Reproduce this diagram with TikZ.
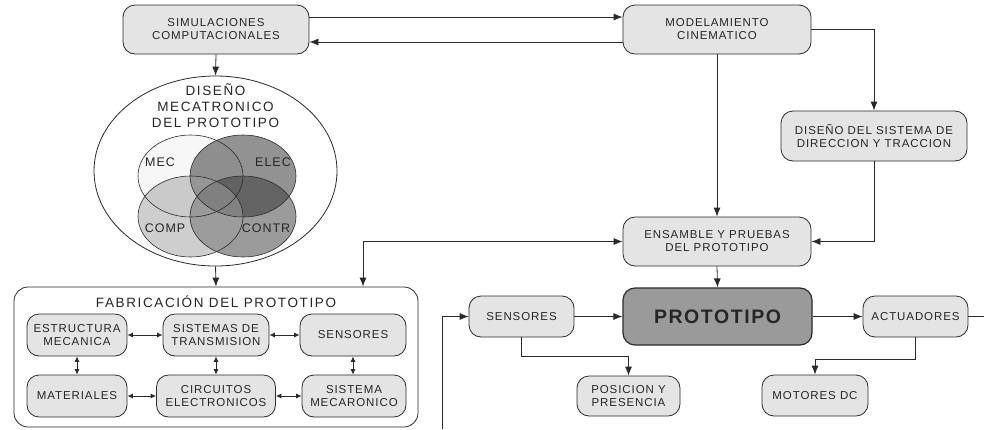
\documentclass[tikz,border=0pt]{standalone}
\usepackage{fontspec}
\newfontfamily\lsans[LetterSpace=8]{Liberation Sans}
\newfontfamily\tsans[LetterSpace=12]{Liberation Sans}
\usetikzlibrary{arrows.meta,shapes.geometric}
\definecolor{boxfill}{HTML}{E4E4E4}
\definecolor{protofill}{HTML}{9A9A9A}
\definecolor{linec}{HTML}{2A2A2A}
\tikzset{
  box/.style={draw=linec, fill=boxfill, rounded corners=12pt, align=center,
    line width=0.8pt, inner sep=1pt, text=black!85,
    font=\lsans\fontsize{11.5}{13}\selectfont},
  protobox/.style={box, fill=protofill, line width=1.2pt,
    font=\lsans\bfseries\fontsize{19.5}{22}\selectfont},
  arr/.style={draw=linec, line width=0.8pt, -{Latex[length=9pt,width=7pt]}},
  arrboth/.style={draw=linec, line width=0.8pt, {Latex[length=9pt,width=7pt]}-{Latex[length=9pt,width=7pt]}},
  darr/.style={draw=linec, line width=0.8pt, {Latex[length=5.5pt,width=5pt]}-{Latex[length=5.5pt,width=5pt]}},
  plain/.style={draw=linec, line width=0.8pt},
  vlabel/.style={text=black!85, font=\lsans\fontsize{12.5}{14}\selectfont},
  title/.style={text=black!85, align=center, font=\tsans\fontsize{13.5}{16}\selectfont},
  vcirc/.style={fill opacity=0.5}
}
\begin{document}
\begin{tikzpicture}[x=1pt,y=-1pt]
\useasboundingbox[fill=white] (0,0) rectangle (984,429);

% top row
\node[box, minimum width=186pt, minimum height=49pt] (sim) at (216,29.5) {SIMULACIONES\\COMPUTACIONALES};
\node[box, minimum width=188pt, minimum height=49pt] (mod) at (717,29.5) {MODELAMIENTO\\CINEMATICO};
\node[box, minimum width=186pt, minimum height=50pt] (dir) at (874,136) {DISEÑO DEL SISTEMA DE\\DIRECCION Y TRACCION};
\node[box, minimum width=188pt, minimum height=49pt] (ens) at (717,241.5) {ENSAMBLE Y PRUEBAS\\DEL PROTOTIPO};

% venn
\node[draw=linec, line width=0.8pt, fill=white, ellipse, minimum width=243pt, minimum height=190pt, inner sep=0pt] (venn) at (215.5,171) {};
\node[title] (vtitle) at (215.5,106) {DISEÑO\\MECATRONICO\\DEL PROTOTIPO};
\fill[vcirc, fill=black!6] (190.5,176) ellipse [x radius=52.5, y radius=41];
\fill[vcirc, fill=black!85] (243,176) ellipse [x radius=53, y radius=41];
\fill[vcirc, fill=black!78] (243,216.5) ellipse [x radius=53, y radius=40.5];
\fill[vcirc, fill=black!38] (190.5,216.5) ellipse [x radius=52.5, y radius=40.5];
\draw[draw=linec, line width=0.6pt] (190.5,176) ellipse [x radius=52.5, y radius=41];
\draw[draw=linec, line width=0.6pt] (243,176) ellipse [x radius=53, y radius=41];
\draw[draw=linec, line width=0.6pt] (243,216.5) ellipse [x radius=53, y radius=40.5];
\draw[draw=linec, line width=0.6pt] (190.5,216.5) ellipse [x radius=52.5, y radius=40.5];
\node[vlabel] (lmec) at (160,162) {MEC};
\node[vlabel] (lelec) at (273,162) {ELEC};
\node[vlabel] (lcomp) at (165,228) {COMP};
\node[vlabel] (lcontr) at (266,228) {CONTR};

% fabrication
\node[draw=linec, line width=0.8pt, fill=white, rounded corners=14pt, minimum width=404pt, minimum height=140pt, inner sep=0pt] (fab) at (216,357) {};
\node[title] (fabt) at (216,302) {FABRICACIÓN DEL PROTOTIPO};
\node[box, minimum width=100pt, minimum height=42pt] (em) at (77,335) {ESTRUCTURA\\MECANICA};
\node[box, minimum width=106pt, minimum height=42pt] (st) at (216,335) {SISTEMAS DE\\TRANSMISION};
\node[box, minimum width=106pt, minimum height=42pt] (sen1) at (353,335) {SENSORES};
\node[box, minimum width=100pt, minimum height=42pt] (mat) at (77,396) {MATERIALES};
\node[box, minimum width=119pt, minimum height=42pt] (ce) at (216,396) {CIRCUITOS\\ELECTRONICOS};
\node[box, minimum width=104pt, minimum height=42pt] (sm) at (354,396) {SISTEMA\\MECARONICO};

\draw[darr] (em.east) -- (st.west);
\draw[darr] (st.east) -- (sen1.west);
\draw[darr] (mat.east) -- (ce.west);
\draw[darr] (ce.east) -- (sm.west);
\draw[darr] (em.south) -- (mat.north);
\draw[darr] (st.south) -- (ce.north);
\draw[darr] (sen1.south) -- (sm.north -| sen1.south);

% lower right
\node[protobox, minimum width=189pt, minimum height=57pt] (proto) at (717.5,316.5) {PROTOTIPO};
\node[box, minimum width=105pt, minimum height=41pt] (sen2) at (521.5,316.5) {SENSORES};
\node[box, minimum width=105pt, minimum height=41pt] (act) at (915.5,316.5) {ACTUADORES};
\node[box, minimum width=103pt, minimum height=40pt] (pos) at (628.5,396) {POSICION Y\\PRESENCIA};
\node[box, minimum width=106pt, minimum height=41pt] (mot) at (815,395.5) {MOTORES DC};

\coordinate (fbin) at (442,429);
\coordinate (actout) at (984,316.5);

% connectors
\draw[arr] (sim.east |- 0,17) -- (mod.west |- 0,17);
\draw[arr] (mod.west |- 0,42) -- (sim.east |- 0,42);
\draw[arr] (mod.east) -| (dir.north);
\draw[arr] (mod.south) -- (ens.north);
\draw[arr] (dir.south) |- (ens.east);
\draw[arrboth] (ens.west) -| (fab.north -| 363,0);
\draw[arr] (sim.south) -- (venn.north);
\draw[arr] (venn.south) -- (fab.north);
\draw[arr] (ens.south) -- (proto.north);
\draw[arr] (sen2.east) -- (proto.west);
\draw[arr] (proto.east) -- (act.west);
\draw[plain] (act.east) -- (actout);
\draw[arr] (fbin) |- (sen2.west);
\draw[arr] (sen2.south) -- ++(0,19) -| (pos.north);
\draw[arr] (act.south) -- ++(0,22) -| (mot.north);
\end{tikzpicture}
\end{document}
